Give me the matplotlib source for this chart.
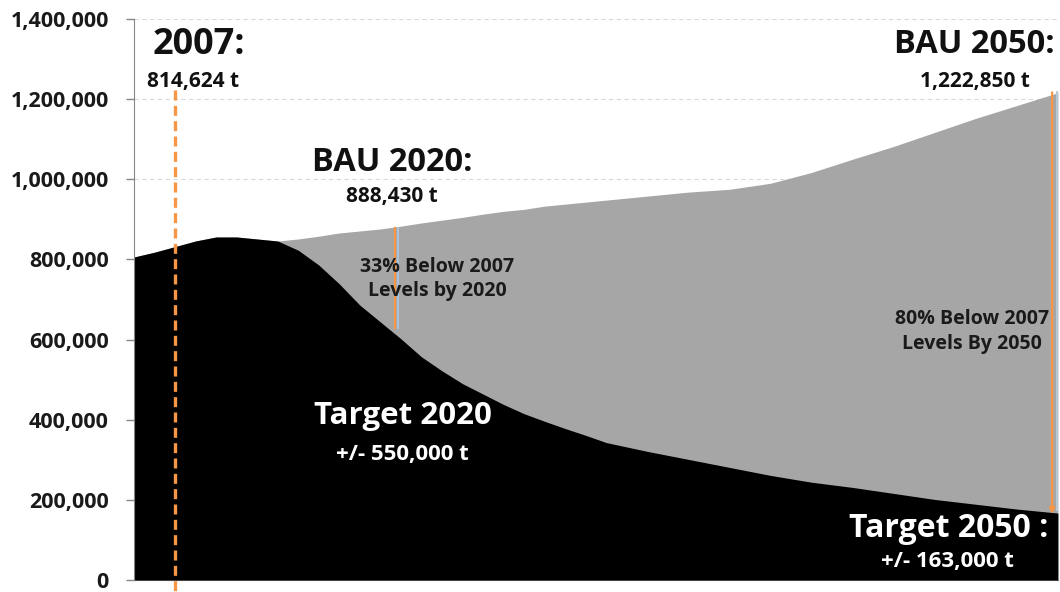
import matplotlib
matplotlib.use("Agg")
import matplotlib.pyplot as plt
from matplotlib.ticker import FuncFormatter

plt.rcParams['font.family'] = ['Open Sans', 'DejaVu Sans']

# ---- data ----
years = [2005, 2006, 2007, 2008, 2009, 2010, 2011, 2012, 2013, 2014, 2015,
         2016, 2017, 2018, 2019, 2020, 2021, 2022, 2023, 2024, 2025, 2026,
         2027, 2028, 2030, 2032, 2034, 2036, 2038, 2040, 2042, 2044, 2046,
         2048, 2050]
bau = [806000, 818000, 832000, 846000, 856000, 856000, 851000, 846000,
       851000, 858000, 866000, 871000, 876000, 883000, 891000, 898000,
       905000, 913000, 920000, 925000, 933000, 938000, 943000, 948000,
       958000, 968000, 975000, 990000, 1017000, 1050000, 1082000, 1117000,
       1152000, 1184000, 1216000]
target = [806000, 818000, 832000, 846000, 856000, 856000, 851000, 846000,
          823000, 786000, 739000, 686000, 644000, 602000, 557000, 522000,
          490000, 464000, 438000, 415000, 396000, 378000, 361000, 343000,
          321000, 301000, 281000, 261000, 244000, 231000, 216000, 201000,
          189000, 177000, 167000]
y_ticks = [0, 200000, 400000, 600000, 800000, 1000000, 1200000, 1400000]

orange = '#f79646'
grey = '#a6a6a6'

fig = plt.figure(figsize=(10.6, 5.92), dpi=100)
ax = fig.add_axes([0.1264, 0.0203, 0.8716, 0.9476])

ax.fill_between(years, 0, bau, color=grey, lw=0, zorder=2)
ax.fill_between(years, 0, target, color='black', lw=0, zorder=3)

ax.set_xlim(2005, 2050)
ax.set_ylim(0, 1400000)
ax.set_yticks(y_ticks)
ax.yaxis.set_major_formatter(FuncFormatter(lambda v, p: f"{int(v):,}"))
ax.set_xticks([])
for lab in ax.get_yticklabels():
    lab.set_fontweight('bold')
ax.tick_params(axis='y', labelsize=15.5, length=6, width=1, color='#868686',
               pad=12, labelcolor='#1a1a1a')
ax.yaxis.grid(True, linestyle=(0, (4, 3)), color='#d9d9d9', lw=0.8, zorder=0)
ax.set_axisbelow(True)
for s in ['top', 'right']:
    ax.spines[s].set_visible(False)
ax.spines['left'].set_color('#868686')
ax.spines['bottom'].set_color('#868686')
ax.spines['left'].set_zorder(5)

# orange markers
ax.plot([2007.0, 2007.0], [1224000, -30000], color=orange, lw=2.4,
        ls=(0, (3, 1.6)), zorder=6, clip_on=False)
ax.plot([2017.72, 2017.72], [878000, 630000], color=orange, lw=1.6, zorder=6)
ax.plot([2017.86, 2017.86], [878000, 630000], color='#a9c4dc', lw=1.4, zorder=6)
ax.plot([2049.98, 2049.98], [1217000, 175000], color='#b8c8d8', lw=1.4, zorder=6)
ax.annotate('', xy=(2049.72, 165000), xytext=(2049.72, 1217000),
            arrowprops=dict(arrowstyle='-|>', color=orange, lw=1.6,
                            mutation_scale=8, shrinkA=0, shrinkB=0),
            zorder=7)

# annotations
dark = '#111111'
ax.text(2008.17, 1335800, '2007:', fontsize=26, fontweight='bold',
        ha='center', va='center', color=dark, zorder=8)
ax.text(2007.87, 1243800, '814,624 t', fontsize=15, fontweight='bold',
        ha='center', va='center', color=dark, zorder=8)
ax.text(2017.6, 1042300, 'BAU 2020:', fontsize=23.5, fontweight='bold',
        ha='center', va='center', color=dark, zorder=8)
ax.text(2017.55, 957700, '888,430 t', fontsize=15, fontweight='bold',
        ha='center', va='center', color=dark, zorder=8)
ax.text(2019.78, 751000, '33% Below 2007\nLevels by 2020', fontsize=14,
        fontweight='bold', ha='center', va='center', color='#1a1a1a',
        linespacing=1.28, zorder=8)
ax.text(2049.86, 1335800, 'BAU 2050:', fontsize=23.5, fontweight='bold',
        ha='right', va='center', color=dark, zorder=8)
ax.text(2045.95, 1243800, '1,222,850 t', fontsize=15, fontweight='bold',
        ha='center', va='center', color=dark, zorder=8)
ax.text(2045.82, 620000, '80% Below 2007\nLevels By 2050', fontsize=14,
        fontweight='bold', ha='center', va='center', color='#1a1a1a',
        linespacing=1.28, zorder=8)
ax.text(2018.08, 410450, 'Target 2020', fontsize=22.5, fontweight='bold',
        ha='center', va='center', color='white', zorder=8)
ax.text(2018.08, 312000, '+/- 550,000 t', fontsize=16, fontweight='bold',
        ha='center', va='center', color='white', zorder=8)
ax.text(2049.52, 129350, 'Target 2050 :', fontsize=23, fontweight='bold',
        ha='right', va='center', color='white', zorder=8)
ax.text(2044.6, 47260, '+/- 163,000 t', fontsize=16, fontweight='bold',
        ha='center', va='center', color='white', zorder=8)

fig.savefig('out.png', dpi=100)
